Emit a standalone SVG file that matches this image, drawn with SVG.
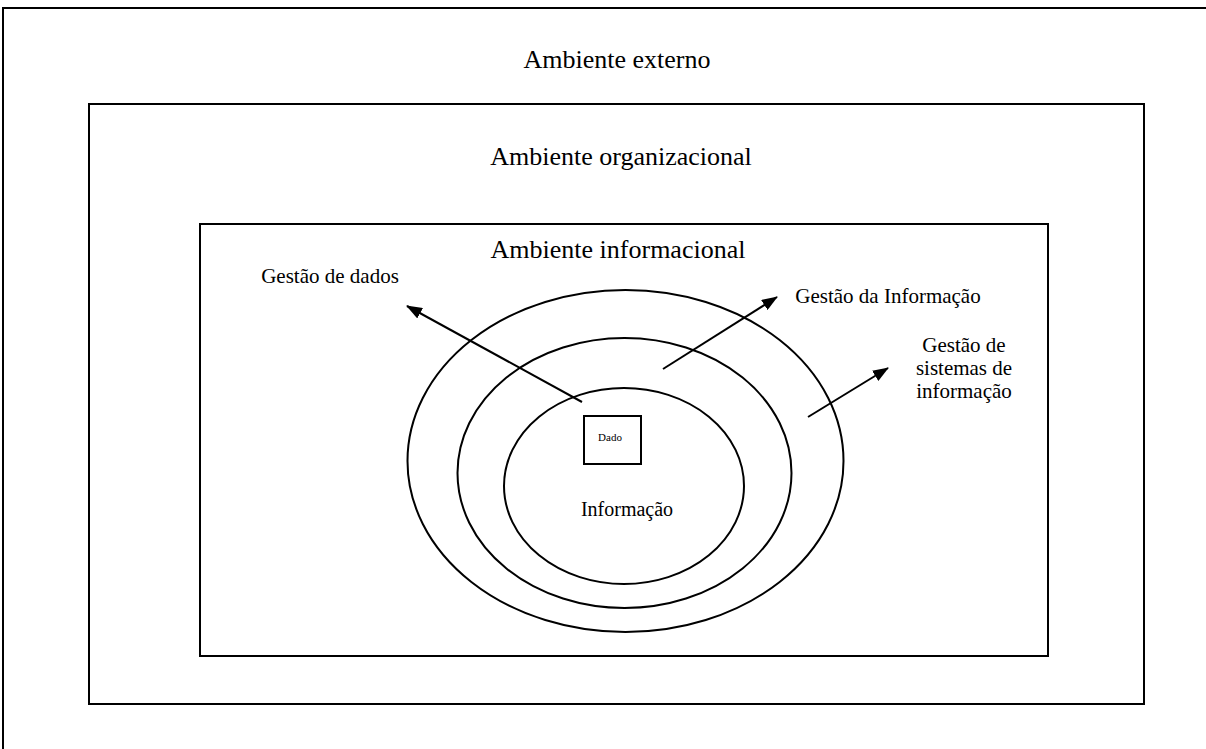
<svg xmlns="http://www.w3.org/2000/svg" width="1206" height="749" viewBox="0 0 1206 749">
<defs>
<style>
.box{fill:none;stroke:#000;stroke-width:2}
.ell{fill:none;stroke:#000;stroke-width:2}
.t{font-family:"Liberation Serif","Times New Roman",serif;fill:#000}
.big{font-size:26px}
.mid{font-size:21px}
.arr{stroke:#000;stroke-width:2;fill:none;marker-end:url(#ah)}
</style>
<marker id="ah" viewBox="0 0 16 12" refX="15" refY="6" markerWidth="16" markerHeight="12" orient="auto" markerUnits="userSpaceOnUse">
<path d="M0,0 L16,6 L0,12 z" fill="#000"/>
</marker>
</defs>
<rect width="1206" height="749" fill="#fff"/>
<g id="externo">
<rect class="box" x="3" y="8" width="1210" height="760"/>
<text class="t big" x="617" y="68" text-anchor="middle">Ambiente externo</text>
</g>
<g id="organizacional">
<rect class="box" x="89" y="104" width="1055" height="600"/>
<text class="t big" x="621" y="165" text-anchor="middle">Ambiente organizacional</text>
</g>
<g id="informacional">
<rect class="box" x="200" y="224" width="848" height="432"/>
<text class="t big" x="618" y="258" text-anchor="middle">Ambiente informacional</text>
</g>
<g id="ellipses">
<ellipse class="ell" cx="625.5" cy="461" rx="218" ry="171"/>
<ellipse class="ell" cx="624.5" cy="473" rx="167" ry="135"/>
<ellipse class="ell" cx="624" cy="486" rx="120" ry="98"/>
</g>
<g id="dado">
<rect class="box" x="584" y="416" width="57" height="48"/>
<text class="t" x="610" y="441" font-size="11" text-anchor="middle">Dado</text>
</g>
<g id="informacao">
<text class="t" x="627" y="516" font-size="20" text-anchor="middle">Informação</text>
</g>
<g id="labels">
<text class="t mid" x="330" y="283" text-anchor="middle">Gestão de dados</text>
<text class="t mid" x="888" y="303" text-anchor="middle">Gestão da Informação</text>
<text class="t mid" x="964" y="352" text-anchor="middle">Gestão de</text>
<text class="t mid" x="964" y="375" text-anchor="middle">sistemas de</text>
<text class="t mid" x="964" y="398" text-anchor="middle">informação</text>
</g>
<g id="connectors">
<line class="arr" x1="582" y1="402" x2="407" y2="306"/>
<line class="arr" x1="663" y1="369" x2="777" y2="297"/>
<line class="arr" x1="808" y1="417" x2="888" y2="368"/>
</g>
</svg>
